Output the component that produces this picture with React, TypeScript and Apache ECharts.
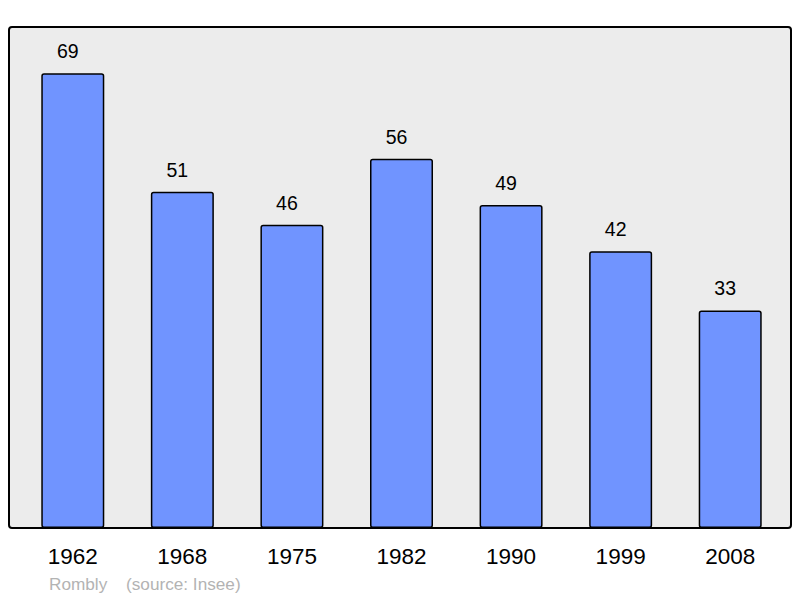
import React, { useEffect, useRef } from "react";
import * as echarts from "echarts";

const years = ["1962", "1968", "1975", "1982", "1990", "1999", "2008"];
const population = [69, 51, 46, 56, 49, 42, 33];
const footerName = "Rombly";
const footerSource = "(source: Insee)";

export default function App() {
  const ref = useRef<HTMLDivElement>(null);
  useEffect(() => {
    if (!ref.current) return;
    const chart = echarts.init(ref.current, null, { renderer: "svg" });
    const font = "Liberation Sans, Arial, sans-serif";
    chart.setOption({
      animation: false,
      backgroundColor: "#ffffff",
      textStyle: { fontFamily: font },
      graphic: [
        {
          type: "rect",
          z: -10,
          silent: true,
          shape: { x: 9, y: 27, width: 782, height: 501, r: 3 },
          style: { fill: "#ececec", stroke: "#000000", lineWidth: 2 },
        },
        {
          type: "text",
          left: 49,
          top: 575,
          style: { text: footerName, fill: "#b3b3b3", fontSize: 17.2, fontFamily: font },
        },
        {
          type: "text",
          left: 126,
          top: 575,
          style: { text: footerSource, fill: "#b3b3b3", fontSize: 17.2, fontFamily: font },
        },
      ],
      grid: { left: 18, right: 15, top: 27, bottom: 70, containLabel: false },
      xAxis: {
        type: "category",
        data: years,
        axisLine: { show: false },
        axisTick: { show: false },
        axisLabel: { color: "#000", fontSize: 22.5, margin: 17 },
      },
      yAxis: {
        type: "value",
        min: 0,
        max: 76,
        show: false,
        splitLine: { show: false },
      },
      series: [
        {
          type: "bar",
          data: population,
          barWidth: 63,
          itemStyle: { color: "#7094ff", borderColor: "#000", borderWidth: 1.5, borderRadius: 2 },
          label: { show: true, position: "top", distance: 12, offset: [-5, 0], color: "#000", fontSize: 19.5 },
        },
      ],
    });
    return () => chart.dispose();
  }, []);
  return <div ref={ref} style={{ position: "fixed", left: 0, top: 0, width: 800, height: 598 }} />;
}
